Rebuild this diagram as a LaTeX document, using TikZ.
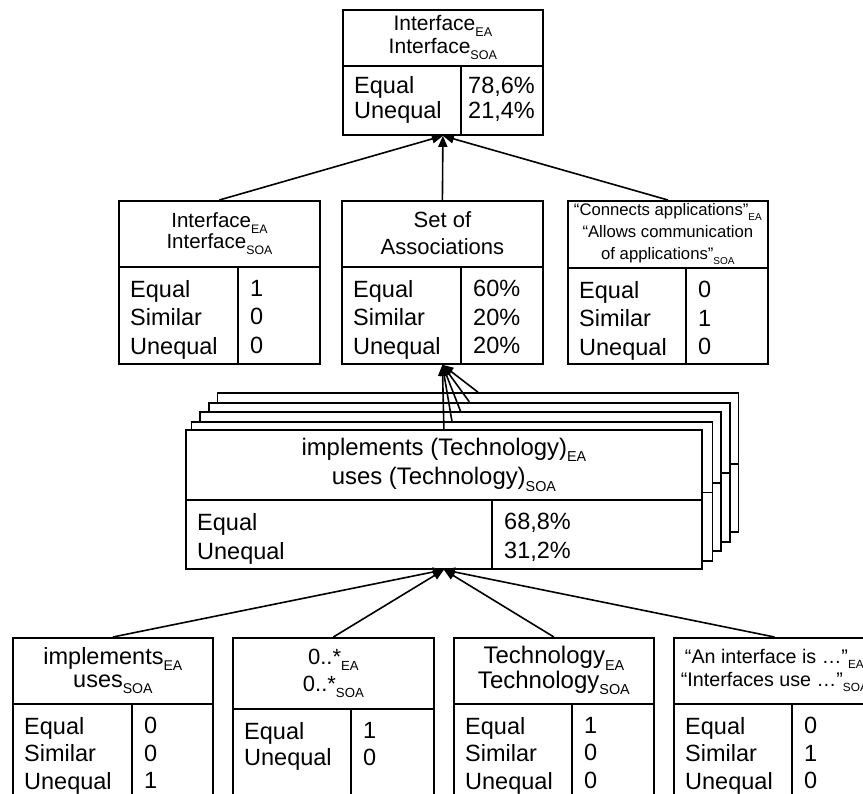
\documentclass[tikz,border=0pt]{standalone}
\usepackage{fontspec}
\setmainfont{Liberation Sans}
\usetikzlibrary{positioning,arrows.meta}
\tikzset{%
critbox/.style={draw,fill=white,rectangle,line width=1.8pt,inner sep=0},
header/.style={align=center,inner sep=0,font=\fontsize{22}{26}\selectfont},
rows/.style={align=left,inner xsep=12pt,inner ysep=13pt,font=\fontsize{23.5}{#1}\selectfont},
rows/.default=28.5,
link/.style={line width=1.6pt},
>={Triangle[length=11pt,width=9pt]}
}

% lowered index after a name
\newcommand{\idx}[1]{\raisebox{-.27em}{\scalebox{.6}{#1}}}

% box with a header part and a two-column table below it
% #1 header style, #2 name, #3 top left, #4 width, #5 height, #6 header height, #7 column split, #8 header text
\newcommand{\critbox}[8][]{%
  \node[critbox,minimum width=#4,minimum height=#5,anchor=north west] (#2) at (#3) {};
  \coordinate (#2-hl) at ([yshift=-#6]#2.north west);
  \coordinate (#2-hr) at ([yshift=-#6]#2.north east);
  \coordinate (#2-split) at ([xshift=#7]#2-hl);
  \draw[line width=1.8pt] (#2-hl) -- (#2-hr)
                          (#2-split) -- (#2-split |- #2.south);
  \node[header,#1] at ([yshift=-#6/2]#2.north) {#8};
}

\begin{document}
\begin{tikzpicture}[x=1pt,y=-1pt]

    \clip (0,0) rectangle (863,794);
    \fill[white] (0,0) rectangle (863,794);

    % result
    \critbox[font=\fontsize{21}{23.5}\selectfont]{topbox}{342,9}{200}{125}{57}{119}%
      {Interface\idx{EA}\\Interface\idx{SOA}}
    \node[rows=25,inner ysep=10.5pt,below right=0pt of topbox-hl] {Equal\\Unequal};
    \node[rows=25,inner ysep=10.5pt,inner xsep=7pt,below right=0pt of topbox-split] {78,6\%\\21,4\%};

    % second level
    \critbox[font=\fontsize{20.5}{21}\selectfont]{ifbox}{118,200}{201}{163}{67}{120}%
      {Interface\idx{EA}\\Interface\idx{SOA}}
    \node[rows,below right=0pt of ifbox-hl] {Equal\\Similar\\Unequal};
    \node[rows,below right=0pt of ifbox-split] {1\\0\\0};

    \critbox[font=\fontsize{22}{27}\selectfont]{assocbox}{341,200}{201}{163}{67}{120}%
      {Set of\\Associations}
    \node[rows,below right=0pt of assocbox-hl] {Equal\\Similar\\Unequal};
    \node[rows,below right=0pt of assocbox-split] {60\%\\20\%\\20\%};

    \critbox[font=\fontsize{16.7}{22}\selectfont]{descbox}{567,200}{200}{163}{68}{119}%
      {“Connects applications”\idx{EA}\\“Allows communication\\of applications”\idx{SOA}}
    \node[rows,below right=0pt of descbox-hl] {Equal\\Similar\\Unequal};
    \node[rows,below right=0pt of descbox-split] {0\\1\\0};

    % stack of associations, back to front
    \critbox{techbg4}{216.6,392.2}{521}{139}{71.5}{307}{}
    \critbox{techbg3}{207.9,401.8}{521}{139}{71.5}{307}{}
    \critbox{techbg2}{199.2,411.4}{521}{139}{71.5}{307}{}
    \critbox{techbg1}{190.5,421}{521}{139}{71.5}{307}{}
    \critbox[font=\fontsize{23.9}{29.4}\selectfont]{techbox}{185,429}{516}{139}{71}{307}%
      {implements (Technology)\idx{EA}\\uses (Technology)\idx{SOA}}
    \node[rows=29.3,below right=0pt of techbox-hl] {Equal\\Unequal};
    \node[rows=29.3,below right=0pt of techbox-split] {68,8\%\\31,2\%};

    % properties
    \critbox[font=\fontsize{23.5}{23.5}\selectfont]{relbox}{12,637}{200}{180}{67}{120}%
      {implements\idx{EA}\\uses\idx{SOA}}
    \node[rows=27.5,below right=0pt of relbox-hl] {Equal\\Similar\\Unequal};
    \node[rows=27.5,below right=0pt of relbox-split] {0\\0\\1};

    \critbox[font=\fontsize{22}{27}\selectfont]{multbox}{232,637}{201}{180}{72}{119}%
      {0..*\idx{EA}\\0..*\idx{SOA}}
    \node[rows=26.7,below right=0pt of multbox-hl] {Equal\\Unequal};
    \node[rows=26.7,below right=0pt of multbox-split] {1\\0};

    \critbox[font=\fontsize{24}{24.5}\selectfont]{typebox}{453,637}{200}{180}{67}{119}%
      {Technology\idx{EA}\\Technology\idx{SOA}}
    \node[rows=27.5,below right=0pt of typebox-hl] {Equal\\Similar\\Unequal};
    \node[rows=27.5,below right=0pt of typebox-split] {1\\0\\0};

    \critbox[font=\fontsize{19.7}{22.7}\selectfont]{defbox}{673,637}{201}{180}{67}{119}%
      {“An interface is …”\idx{EA}\\“Interfaces use …”\idx{SOA}}
    \node[rows=27.5,below right=0pt of defbox-hl] {Equal\\Similar\\Unequal};
    \node[rows=27.5,below right=0pt of defbox-split] {0\\1\\0};

    \path[->,link] (ifbox.north) edge (topbox.south)
                   (assocbox.north) edge (topbox.south)
                   (descbox.north) edge (topbox.south)
                   (techbox.north) edge (assocbox.south)
                   (techbg1.north) edge (assocbox.south)
                   (techbg2.north) edge (assocbox.south)
                   (techbg3.north) edge (assocbox.south)
                   (techbg4.north) edge (assocbox.south)
                   (relbox.north) edge (techbox.south)
                   (multbox.north) edge (techbox.south)
                   (typebox.north) edge (techbox.south)
                   (defbox.north) edge (techbox.south);

  \end{tikzpicture}
\end{document}
